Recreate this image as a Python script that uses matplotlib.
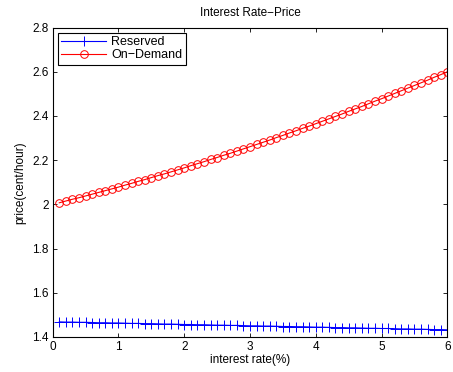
import matplotlib as mpl
mpl.use('Agg')
import matplotlib.pyplot as plt
import numpy as np

plt.rcParams['font.family'] = ['Liberation Sans', 'DejaVu Sans']

rate = np.round(np.arange(1, 61) * 0.1, 1)

reserved = [
    1.468, 1.467, 1.467, 1.466, 1.466, 1.465, 1.464, 1.464, 1.463, 1.463,
    1.462, 1.461, 1.461, 1.460, 1.460, 1.459, 1.458, 1.458, 1.457, 1.456,
    1.456, 1.455, 1.455, 1.454, 1.453, 1.453, 1.452, 1.452, 1.451, 1.450,
    1.450, 1.449, 1.449, 1.448, 1.447, 1.447, 1.446, 1.446, 1.445, 1.444,
    1.444, 1.443, 1.442, 1.442, 1.441, 1.441, 1.440, 1.439, 1.439, 1.438,
    1.438, 1.437, 1.436, 1.436, 1.435, 1.435, 1.434, 1.433, 1.433, 1.432,
]

on_demand = [
    2.007, 2.015, 2.023, 2.030, 2.038, 2.046, 2.054, 2.062, 2.070, 2.078,
    2.087, 2.095, 2.104, 2.112, 2.121, 2.130, 2.138, 2.147, 2.156, 2.165,
    2.175, 2.184, 2.193, 2.203, 2.212, 2.222, 2.231, 2.241, 2.251, 2.261,
    2.271, 2.281, 2.291, 2.302, 2.312, 2.323, 2.333, 2.344, 2.354, 2.365,
    2.376, 2.387, 2.398, 2.409, 2.421, 2.432, 2.443, 2.455, 2.467, 2.478,
    2.490, 2.502, 2.514, 2.526, 2.538, 2.550, 2.562, 2.575, 2.587, 2.600,
]

fig = plt.figure(figsize=(4.53, 3.72), dpi=100)
ax = fig.add_axes([0.1163, 0.0944, 0.8711, 0.8314])

ax.plot(rate, reserved, color='blue', marker='+', markersize=6.5,
        markeredgewidth=0.7, linewidth=0.8, label='Reserved')
ax.plot(rate, on_demand, color='red', marker='o', markersize=5.5,
        markerfacecolor='none', markeredgewidth=0.7, linewidth=0.8,
        label='On\u2212Demand')

ax.set_xlim(0, 6)
ax.set_ylim(1.4, 2.8)
ax.set_xticks(range(0, 7))
ax.set_yticks([1.4, 1.6, 1.8, 2.0, 2.2, 2.4, 2.6, 2.8])
ax.set_yticklabels(['1.4', '1.6', '1.8', '2', '2.2', '2.4', '2.6', '2.8'])
ax.tick_params(direction='in', top=True, right=True, labelsize=8.5,
               length=3, width=0.6, pad=3)
for s in ax.spines.values():
    s.set_linewidth(0.8)

ax.set_title('Interest Rate\u2212Price', fontsize=8.5, pad=8)
ax.set_xlabel('interest rate(%)', fontsize=8.5, labelpad=1)
ax.set_ylabel('price(cent/hour)', fontsize=8.5, labelpad=4)

leg = ax.legend(loc='upper left', fontsize=9, fancybox=False,
                edgecolor='black', framealpha=1, handlelength=3.6,
                borderpad=0.3, labelspacing=0.05, handletextpad=0.4,
                borderaxespad=0.4)
leg.get_frame().set_linewidth(0.8)

fig.savefig('out.png', dpi=100)
